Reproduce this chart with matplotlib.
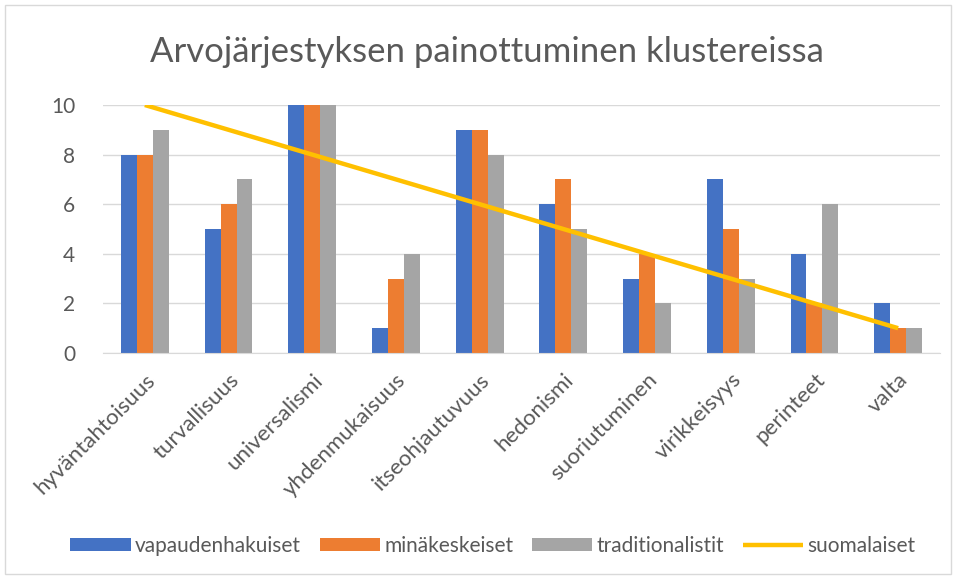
import matplotlib
matplotlib.use("Agg")
import matplotlib.pyplot as plt
import numpy as np
from matplotlib.patches import Rectangle

categories = ["hyväntahtoisuus", "turvallisuus", "universalismi", "yhdenmukaisuus",
              "itseohjautuvuus", "hedonismi", "suoriutuminen", "virikkeisyys",
              "perinteet", "valta"]
vapaudenhakuiset = [8, 5, 10, 1, 9, 6, 3, 7, 4, 2]
minakeskeiset = [8, 6, 10, 3, 9, 7, 4, 5, 2, 1]
traditionalistit = [9, 7, 10, 4, 8, 5, 2, 3, 6, 1]
suomalaiset = [10, 9, 8, 7, 6, 5, 4, 3, 2, 1]

plt.rcParams['font.family'] = ['Lato', 'DejaVu Sans']
text_col = "#595959"

fig = plt.figure(figsize=(9.56, 5.79), dpi=100)
ax = fig.add_axes([103 / 956, 1 - 353 / 579, 837 / 956, 248 / 579])

x = np.arange(len(categories))
w = 0.19
b1 = ax.bar(x - w, vapaudenhakuiset, w, color="#4472C4", label="vapaudenhakuiset", zorder=2)
b2 = ax.bar(x, minakeskeiset, w, color="#ED7D31", label="minäkeskeiset", zorder=2)
b3 = ax.bar(x + w, traditionalistit, w, color="#A5A5A5", label="traditionalistit", zorder=2)
l1, = ax.plot(x, suomalaiset, color="#FFC000", lw=3.2, label="suomalaiset", zorder=3,
              solid_capstyle="butt")

ax.set_xlim(-0.5, len(categories) - 0.5)
ax.set_ylim(0, 10)
ax.set_yticks(range(0, 11, 2))
ax.grid(axis="y", color="#D9D9D9", lw=1, zorder=0)
for s in ["top", "right", "left"]:
    ax.spines[s].set_visible(False)
ax.spines["bottom"].set_color("#D9D9D9")
ax.tick_params(axis="both", length=0, colors=text_col)
ax.tick_params(axis="y", pad=20, labelsize=15)
ax.set_xticks(x)
ax.set_xticklabels(categories, rotation=45, ha="right", rotation_mode="anchor",
                   color=text_col, fontsize=16)
ax.tick_params(axis="x", pad=12)

fig.text(487 / 956, 1 - 52 / 579, "Arvojärjestyksen painottuminen klustereissa",
         ha="center", va="center", fontsize=25, color=text_col)

leg = fig.legend([b1, b2, b3, l1],
                 ["vapaudenhakuiset", "minäkeskeiset", "traditionalistit", "suomalaiset"],
                 loc="center", bbox_to_anchor=(493 / 956, 1 - 546 / 579), ncol=4,
                 frameon=False, fontsize=15, handlelength=2.9, handleheight=0.6,
                 columnspacing=0.9, handletextpad=0.2)
for t in leg.get_texts():
    t.set_color(text_col)

fig.patches.append(Rectangle((5 / 956, 5 / 579), 946 / 956, 569 / 579,
                             transform=fig.transFigure, fill=False,
                             edgecolor="#D9D9D9", lw=1))

fig.savefig("out.png", dpi=100)
